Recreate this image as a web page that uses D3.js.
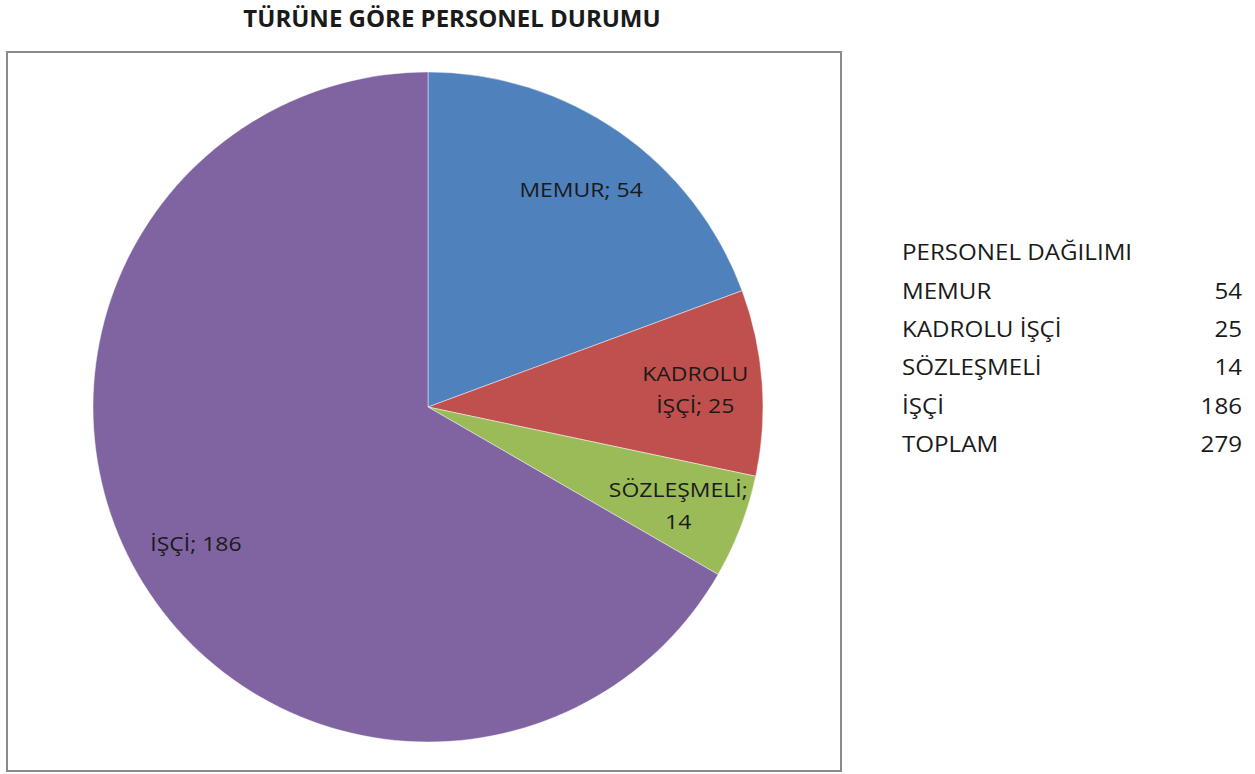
<!DOCTYPE html>
<html>
<head>
<meta charset="utf-8">
<script src="https://cdn.jsdelivr.net/npm/d3@7"></script>
<style>
  html, body { margin: 0; padding: 0; background: #fff; }
  svg { display: block; }
  text { font-family: "Open Sans", "Noto Sans", sans-serif; fill: #1a1a1a; }
</style>
</head>
<body>
<svg id="chart" width="1255" height="774"></svg>
<script>
const title = "TÜRÜNE GÖRE PERSONEL DURUMU";
const categories = ["MEMUR", "KADROLU İŞÇİ", "SÖZLEŞMELİ", "İŞÇİ"];
const values = [54, 25, 14, 186];
const colors = ["#4F81BD", "#C0504D", "#9BBB59", "#8064A2"];
const wrapLabel = [false, true, true, false];
const tableTitle = "PERSONEL DAĞILIMI";
const totalLabel = "TOPLAM";

const svg = d3.select("#chart");
const SX = 1.15; // horizontal widening of the text face

// title
svg.append("text")
  .attr("x", 452).attr("y", 27)
  .attr("text-anchor", "middle")
  .style("font-weight", "bold")
  .style("font-size", "24px")
  .text(title);

// plot border
svg.append("rect")
  .attr("x", 7).attr("y", 52)
  .attr("width", 834).attr("height", 719)
  .attr("fill", "none")
  .attr("stroke", "#8a8a8a")
  .attr("stroke-width", 2);

const cx = 428, cy = 407, R = 335;
const data = categories.map((c, i) => ({ cat: c, value: values[i], color: colors[i], wrap: wrapLabel[i] }));

const pie = d3.pie().value(d => d.value).sort(null);
const arcs = pie(data);
const arc = d3.arc().innerRadius(0).outerRadius(R);
const labelArc = d3.arc().innerRadius(R * 0.8).outerRadius(R * 0.8);

const g = svg.append("g").attr("transform", `translate(${cx},${cy})`);
g.selectAll("path.slice")
  .data(arcs)
  .join("path")
  .attr("class", "slice")
  .attr("d", arc)
  .attr("fill", d => d.data.color)
  .attr("stroke", "rgba(255,255,255,0.45)")
  .attr("stroke-width", 1);

const lineH = 32;
arcs.forEach(a => {
  const [lx, ly] = labelArc.centroid(a);
  const full = `${a.data.cat}; ${a.data.value}`;
  let lines = [full];
  if (a.data.wrap) {
    const k = full.indexOf(" ");
    lines = [full.slice(0, k), full.slice(k + 1)];
  }
  const t = g.append("text")
    .attr("transform", `translate(${lx},${ly + 3}) scale(${SX},1)`)
    .attr("text-anchor", "middle")
    .style("font-size", "20px");
  lines.forEach((ln, i) => {
    t.append("tspan")
      .attr("x", 0)
      .attr("y", (i - (lines.length - 1) / 2) * lineH)
      .attr("dy", "0.35em")
      .text(ln);
  });
});

// right-hand table
const tx = 902, tvx = 1242, ty0 = 253, rowH = 38.3;
const tbl = svg.append("g").style("font-size", "21px");
function cell(x, y, txt, anchor) {
  tbl.append("text")
    .attr("transform", `translate(${x},${y}) scale(${SX},1)`)
    .attr("dy", "0.35em")
    .attr("text-anchor", anchor)
    .text(txt);
}
cell(tx, ty0, tableTitle, "start");
const total = d3.sum(values);
const rows = data.map(d => [d.cat, d.value]).concat([[totalLabel, total]]);
rows.forEach((r, i) => {
  const y = ty0 + (i + 1) * rowH;
  cell(tx, y, r[0], "start");
  cell(tvx, y, r[1], "end");
});
</script>
</body>
</html>
